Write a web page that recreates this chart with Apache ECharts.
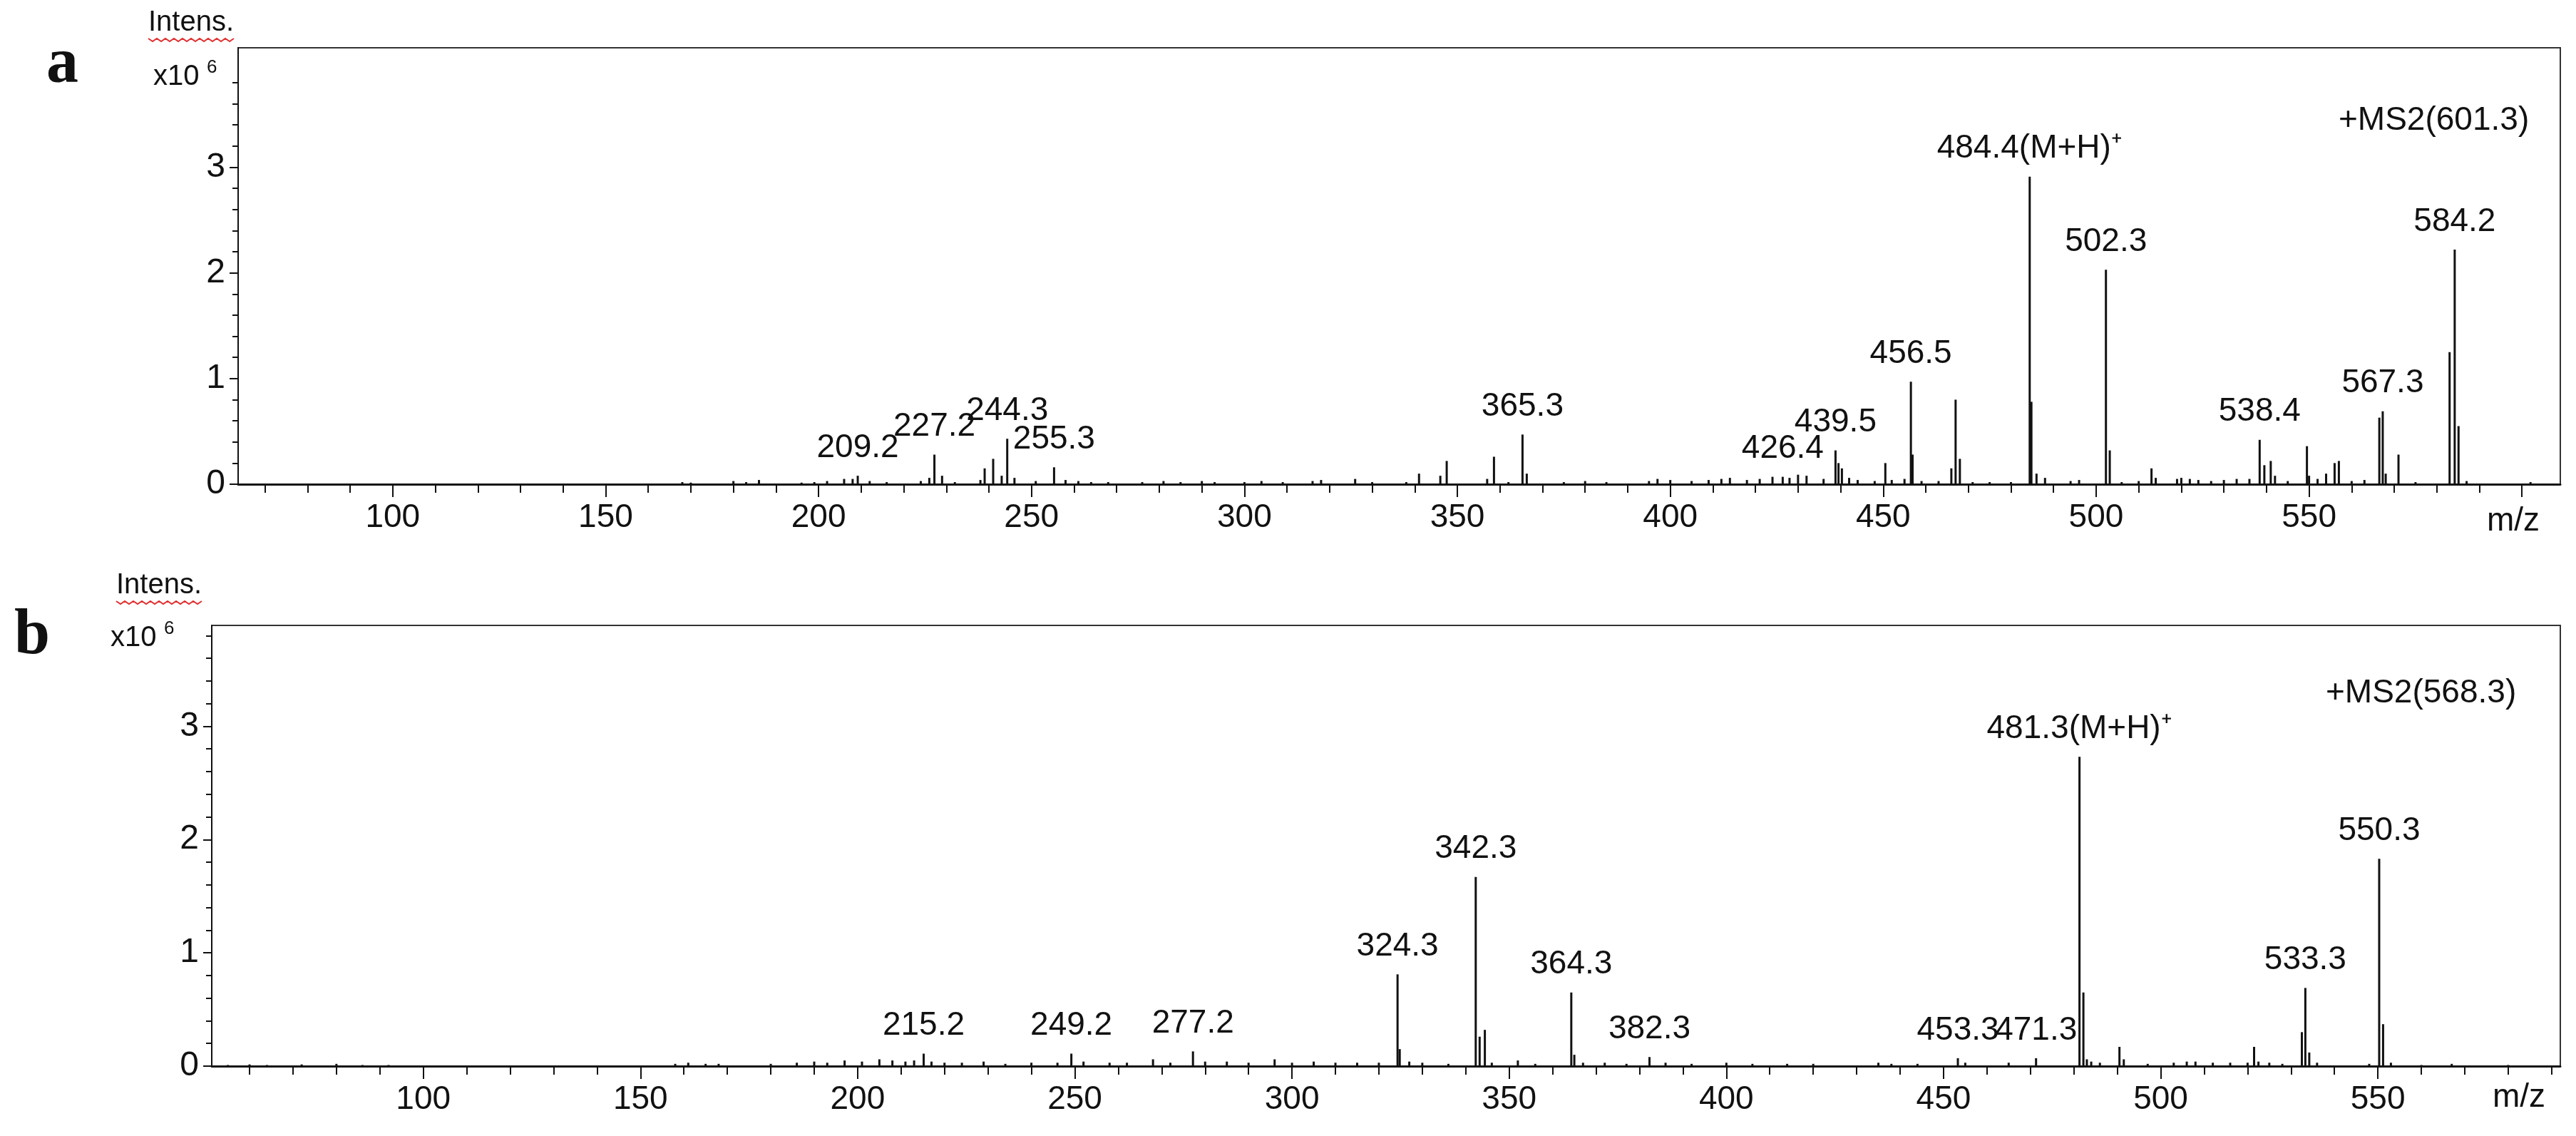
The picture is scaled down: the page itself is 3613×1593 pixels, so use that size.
<!DOCTYPE html>
<html><head><meta charset="utf-8">
<script src="https://cdn.jsdelivr.net/npm/echarts@6/dist/echarts.min.js"></script>
<style>html,body{margin:0;padding:0;background:#fff}#c{width:3613px;height:1593px}</style>
</head><body><div id="c"></div>
<script>
// Panel a: +MS2(601.3), intensities in x10^6
const peaksA = [
 [209.2,0.08],[227.2,0.28],[241.0,0.24],[244.3,0.43],[255.3,0.16],[347.5,0.22],[358.6,0.26],[365.3,0.47],[366.3,0.10],
 [426.4,0.07],[438.8,0.32],[439.5,0.20],[440.3,0.15],[450.5,0.20],[456.5,0.97],[456.9,0.28],[466.0,0.15],[467.0,0.80],[468.0,0.24],
 [484.4,2.91],[484.8,0.78],[486.0,0.10],[502.3,2.03],[503.2,0.32],[513.0,0.15],[514.0,0.06],[538.4,0.42],[539.5,0.18],[541.0,0.22],[542.0,0.08],
 [549.5,0.36],[550.0,0.08],[554.0,0.10],[556.0,0.20],[557.0,0.22],[566.5,0.63],[567.3,0.69],[568.0,0.10],[571.0,0.28],[583.0,1.25],[584.2,2.22],[585.1,0.55]
];
const labelsA = ['209.2','227.2','244.3','255.3','365.3','426.4','439.5','456.5','484.4(M+H)⁺','502.3','538.4','567.3','584.2'];
const labelMzA = [209.2,227.2,244.3,255.3,365.3,426.4,438.8,456.5,484.4,502.3,538.4,567.3,584.2];
const noiseA = [
 [168,0.02],[170,0.015],[180,0.03],[183,0.02],[186,0.04],[196,0.015],[199,0.02],[202,0.03],[206,0.05],[208,0.05],[212,0.03],[216,0.02],[224,0.03],[226,0.06],[229,0.08],[232,0.02],[238,0.04],[239,0.15],[243,0.08],[246,0.06],[251,0.03],[258,0.04],[261,0.03],[264,0.02],[268,0.02],
 [276,0.02],[281,0.03],[285,0.02],[290,0.03],[293,0.02],[300,0.02],[304,0.03],[309,0.02],[316,0.03],[318,0.04],[326,0.05],[330,0.02],[338,0.02],[341,0.1],[346,0.08],[357,0.05],[362,0.02],[375,0.02],[380,0.03],[385,0.02],
 [395,0.03],[397,0.05],[400,0.04],[405,0.03],[409,0.04],[412,0.05],[414,0.06],[418,0.04],[421,0.05],[424,0.07],[428,0.06],[430,0.09],[432,0.08],[436,0.05],[442,0.06],[444,0.04],[448,0.03],[452,0.04],[455,0.05],[459,0.03],
 [463,0.03],[471,0.02],[475,0.02],[480,0.02],[488,0.06],[494,0.03],[496,0.04],[506,0.02],[510,0.03],[519,0.05],[520,0.06],[522,0.05],[524,0.04],[527,0.03],[530,0.04],[533,0.05],[536,0.05],[545,0.03],[552,0.05],[560,0.03],[563,0.04],[575,0.02],[587,0.03],[602,0.02]
];
// Panel b: +MS2(568.3)
const peaksB = [
 [215.2,0.11],[249.2,0.11],[277.2,0.13],[324.3,0.81],[324.8,0.15],[342.3,1.67],[343.2,0.26],[344.4,0.32],[364.3,0.65],[365.0,0.10],[382.3,0.08],
 [453.3,0.07],[471.3,0.07],[481.3,2.73],[482.2,0.65],[483.0,0.06],[490.5,0.17],[491.5,0.06],[521.5,0.17],[522.5,0.04],[532.5,0.30],[533.3,0.69],[534.2,0.12],[550.3,1.83],[551.2,0.37]
];
const labelsB = ['215.2','249.2','277.2','324.3','342.3','364.3','382.3','453.3','471.3','481.3(M+H)⁺','550.3','533.3'];
const labelMzB = [215.2,249.2,277.2,324.3,342.3,364.3,382.3,453.3,471.3,481.3,550.3,533.3];
const noiseB = [
 [55,0.01],[60,0.015],[64,0.01],[72,0.015],[80,0.02],[86,0.01],[92,0.01],[158,0.02],[161,0.03],[165,0.02],[168,0.02],[180,0.02],[186,0.03],[190,0.04],[193,0.03],[197,0.05],[201,0.04],[205,0.06],[208,0.05],[211,0.04],[213,0.05],
 [217,0.04],[220,0.03],[224,0.03],[229,0.04],[234,0.02],[240,0.03],[246,0.03],[252,0.04],[258,0.03],[262,0.03],[268,0.06],[272,0.03],[280,0.04],[285,0.04],[290,0.03],[296,0.06],[300,0.03],[305,0.04],[310,0.03],[315,0.03],[320,0.03],
 [327,0.04],[330,0.03],[336,0.02],[346,0.03],[352,0.05],[356,0.02],[367,0.03],[372,0.03],[377,0.02],[386,0.03],[392,0.02],[400,0.03],[406,0.02],[414,0.02],[420,0.02],[435,0.03],[438,0.02],[444,0.02],[455,0.03],[465,0.03],
 [484,0.04],[486,0.03],[497,0.02],[503,0.03],[506,0.04],[508,0.04],[512,0.03],[516,0.03],[520,0.03],[525,0.03],[528,0.02],[536,0.03],[548,0.02],[553,0.03],[560,0.01],[567,0.02],[580,0.01]
];
const majorTicksA = [100,150,200,250,300,350,400,450,500,550,600];
const tickLabelsA = [100,150,200,250,300,350,400,450,500,550];
const majorTicksB = [100,150,200,250,300,350,400,450,500,550];
const tickLabelsB = [100,150,200,250,300,350,400,450,500,550];
const minorTicksA = [70,80,90,110,120,130,140,160,170,180,190,210,220,230,240,260,270,280,290,310,320,330,340,360,370,380,390,410,420,430,440,460,470,480,490,510,520,530,540,560,570,580,590];
const minorTicksB = [60,70,80,90,110,120,130,140,160,170,180,190,210,220,230,240,260,270,280,290,310,320,330,340,360,370,380,390,410,420,430,440,460,470,480,490,510,520,530,540,560,570,580,590];
const yTicks = [0,1,2,3];

const FONT = 'Liberation Sans, Arial, sans-serif';
function build(peaks, noise, labels, labelMz){
  return noise.map(p=>({value:p})).concat(peaks.map(p=>{
    const i = labelMz.indexOf(p[0]);
    if(i<0) return {value:p};
    return {value:p,label:{show:true,position:'top',distance:16,formatter:labels[i],fontSize:46,color:'#111',fontFamily:FONT}};
  }));
}
const grids = [
  {left:334,right:22,top:67,height:612,show:true,borderColor:'#333',borderWidth:2,backgroundColor:'transparent'},
  {left:297,right:22,top:877,height:618,show:true,borderColor:'#333',borderWidth:2,backgroundColor:'transparent'}
];
function xAx(gi,min,max,major,labs){
  return {type:'value',gridIndex:gi,position:'bottom',min:min,max:max,
    axisLine:{lineStyle:{color:'#111',width:3}},splitLine:{show:false},
    axisTick:{show:true,customValues:major,length:18,lineStyle:{color:'#111',width:2}},
    axisLabel:{customValues:labs,fontSize:46,color:'#111',fontFamily:FONT,margin:24}};
}
function xAxMinor(gi,min,max,minor){
  return {type:'value',gridIndex:gi,position:'bottom',min:min,max:max,
    axisLine:{show:false},splitLine:{show:false},
    axisTick:{show:true,customValues:minor,length:12,lineStyle:{color:'#111',width:2}},
    axisLabel:{show:false,customValues:minor}};
}
function yAx(gi,max){
  return {type:'value',gridIndex:gi,min:0,max:max,interval:1,
    axisLine:{show:true,lineStyle:{color:'#111',width:2}},splitLine:{show:false},
    axisTick:{show:true,customValues:yTicks,length:12,lineStyle:{color:'#111',width:2}},
    minorTick:{show:true,splitNumber:5,length:8,lineStyle:{color:'#111',width:2}},
    axisLabel:{customValues:yTicks,fontSize:48,color:'#111',fontFamily:FONT,margin:18}};
}
function wavy(x,y,w){
  const pts=[];for(let i=0;i<=w/6;i++){pts.push([x+i*6,y+(i%2?4:0)]);}
  return {type:'polyline',shape:{points:pts},style:{stroke:'#e03030',lineWidth:2,fill:null}};
}
function txt(x,y,t,size,extra){
  return {type:'text',x:x,y:y,style:Object.assign({text:t,fontSize:size,fill:'#111',fontFamily:FONT,textVerticalAlign:'middle'},extra||{})};
}
const option = {
  animation:false,
  backgroundColor:'#fff',
  grid:grids,
  xAxis:[xAx(0,63.7,609,majorTicksA,tickLabelsA),xAx(1,51.3,592,majorTicksB,tickLabelsB),xAxMinor(0,63.7,609,minorTicksA),xAxMinor(1,51.3,592,minorTicksB)],
  yAxis:[yAx(0,4.13),yAx(1,3.89)],
  series:[
    {type:'bar',xAxisIndex:0,yAxisIndex:0,barWidth:3,itemStyle:{color:'#111'},data:build(peaksA,noiseA,labelsA,labelMzA)},
    {type:'bar',xAxisIndex:1,yAxisIndex:1,barWidth:3,itemStyle:{color:'#111'},data:build(peaksB,noiseB,labelsB,labelMzB)}
  ],
  graphic:[
    txt(65,92,'a',90,{fontFamily:'Liberation Serif, serif',fontWeight:'bold'}),
    txt(20,893,'b',90,{fontFamily:'Liberation Serif, serif',fontWeight:'bold'}),
    txt(208,32,'Intens.',40), wavy(208,54,122),
    txt(215,108,'x10',40), txt(290,95,'6',26),
    txt(163,821,'Intens.',40), wavy(163,843,122),
    txt(155,895,'x10',40), txt(230,882,'6',26),
    txt(3280,169,'+MS2(601.3)',46),
    txt(3262,972,'+MS2(568.3)',46),
    txt(3488,731,'m/z',46),
    txt(3496,1539,'m/z',46)
  ]
};
echarts.init(document.getElementById('c')).setOption(option);
</script></body></html>
